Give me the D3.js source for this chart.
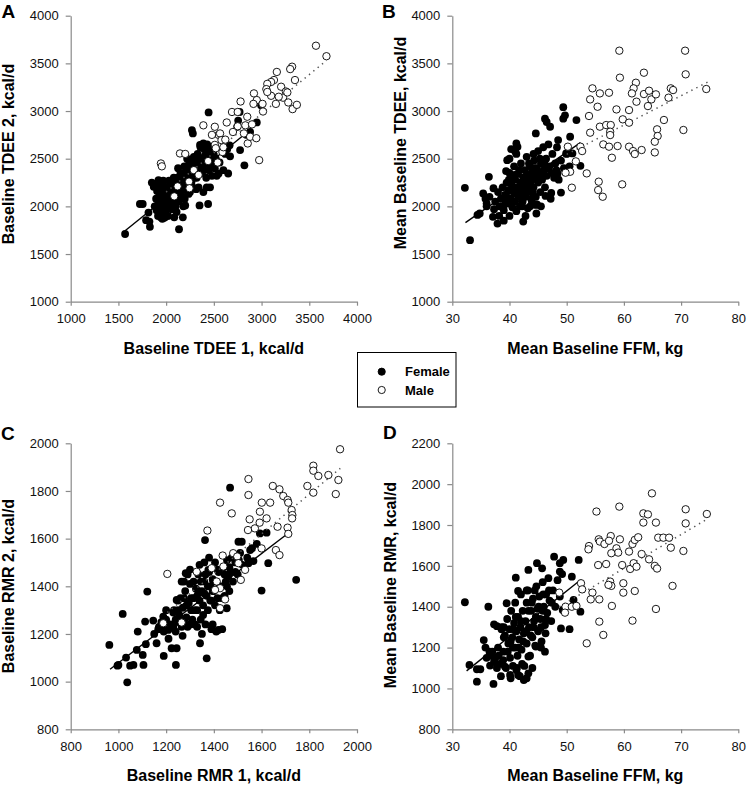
<!DOCTYPE html>
<html><head><meta charset="utf-8">
<script src="https://cdn.jsdelivr.net/npm/d3@7"></script>
<style>
html,body{margin:0;padding:0;background:#fff;}
svg{display:block;font-family:"Liberation Sans",Arial,Helvetica,sans-serif;}
</style></head><body>
<svg id="chart" width="747" height="786"></svg>
<script>
// ---------- DATA ----------
const tickA = [1000,1500,2000,2500,3000,3500,4000];
const tickFFM = [30,40,50,60,70,80];
const tickC = [800,1000,1200,1400,1600,1800,2000];
const tickDy = [800,1000,1200,1400,1600,1800,2000,2200];
const legendLabels = ["Female","Male"];

const aFemale = [[1570,1710],[1725,2025],[1755,2025],[1790,1855],[1825,1840],[1830,1785],[1815,1935],[1850,2250],[1885,2225],[1920,2275],[1870,2205],[1905,2160],
[1943,1885],[1960,1870],[1995,1890],[1980,1880],[2085,1885],[2175,1885],[2135,1760],[2200,2010],[2350,2010],[2440,2025],
[2270,2800],[2280,2765],[2445,2985],[2355,2645],[2390,2660],[2375,2645],
[2550,2345],[2650,2345],[2670,2525],[2665,2640],[2745,2835],[2755,2900],[2770,2990],[2775,2590],[2820,2430],[2880,2780],[2840,2750],[2995,3060],[2950,2880],
[1900,1960],[1910,2010],[1920,2060],[1930,2100],[1940,2000],[1950,2050],[1960,1930],[1965,2150],[1975,2080],[1985,2010],[1990,2200],[2000,1960],[2000,2110],[1950,2230],[1935,2185],[1915,1900],[1970,2270],
[2010,2050],[2020,2150],[2030,2000],[2040,2250],[2050,2100],[2060,1970],[2060,2200],[2070,2050],[2080,2300],[2090,2150],[2100,2000],[2100,2250],[2015,2200],[2045,2060],[2075,2120],[2030,2270],[2090,2080],
[2110,2130],[2120,2300],[2130,2050],[2140,2200],[2150,2350],[2160,2120],[2170,2250],[2180,2000],[2190,2420],[2200,2180],[2125,2400],[2145,2260],[2175,2320],[2195,2080],[2115,2200],
[2210,2300],[2220,2500],[2230,2250],[2240,2380],[2250,2150],[2260,2450],[2270,2320],[2280,2200],[2290,2520],[2300,2380],[2215,2420],[2255,2300],[2285,2420],[2235,2130],
[2310,2450],[2320,2300],[2330,2550],[2340,2200],[2350,2420],[2360,2620],[2370,2350],[2380,2500],[2390,2150],[2400,2600],[2315,2180],[2345,2500],[2385,2430],[2325,2380],
[2410,2450],[2420,2300],[2430,2650],[2440,2520],[2450,2380],[2460,2200],[2470,2580],[2480,2320],[2490,2470],[2500,2540],[2425,2200],[2455,2620],
[2510,2400],[2520,2500],[2530,2320],[2560,2460],[2590,2600],[2620,2550],[2640,2600],[2600,2380],
[1880,2000],[1895,2080],[1925,2150],[1945,2120],[1960,2010],[1985,2140],[2005,2030],[2025,2090],[2035,2180],[2055,2020],[2065,2140],[2085,2230],[2105,2170],[2135,2260],[2155,2190],[2165,2080],[2185,2280],[2205,2360],[2225,2200],[2245,2460],[2265,2250],[2295,2300],[2305,2480],[2335,2420],[2365,2460],[2395,2380],[2405,2530],[2435,2560],[2465,2440],[2485,2600],[2020,1900],[1975,1960],[2110,1940]];

const aMale = [[3570,3685],[3680,3575],[3320,3465],[3300,3440],[3160,3410],[3130,3325],[3100,3305],[3060,3285],[3050,3230],[3350,3325],[3205,3255],[3255,3205],[3225,3140],[3270,3195],
[2920,3185],[2950,3115],[2915,3075],[3010,3075],[3015,2995],[3150,3075],[3280,3090],[3325,3020],[3370,3065],[3100,3160],[3060,3200],[3180,3150],
[2780,3100],[2690,2990],[2750,2990],[2635,2880],[2750,2840],[2830,2850],[2815,2765],[2855,2660],[2880,2730],[2945,2715],[2975,2485],[2900,2860],[2850,2940],
[2510,2835],[2550,2750],[2480,2750],[2565,2765],[2510,2645],[2580,2695],[2590,2570],[2390,2850],[2600,2620],[2520,2610],
[2145,2555],[1945,2450],[1955,2420],[2290,2380],[2340,2330],[2240,2260],[2245,2190],[2120,2210],[2085,2105],[2440,2475],[2540,2460],[2200,2550],[2620,2700],[2700,2780]];

const bFemale = [[32.2,2195],[33.1,1645],[34.4,1910],[34.8,1925],[35.4,2135],[36,2030],[35.8,2080],[36.4,2310],[37.2,2190],[37.3,1970],[37.1,1890],[37.9,1820],[38.9,2000],[39.5,2100],[39.6,2485],[40,2500],[41.2,2660],[41.4,2625],[41,2575],[42.4,1840],[44.6,2765],[44.7,1925],[44.6,2015],[46.2,2920],[46.5,2885],[47.1,2835],[49.4,3040],[49.4,2920],[49.7,2955],[49,2145],[49.9,2555],[50.6,2730],[51,2555],[51.7,2905],[52.4,2425],[48.4,2345],[48.5,2695],
[38.5,2080],[38.8,2200],[39,1960],[39.2,2120],[39.5,2250],[39.6,2030],[39.8,2170],[40,1900],[40,2350],[40.2,2080],[40.4,2220],[40.5,1990],[40.7,2150],[40.8,2420],[41,2050],[41,2280],[41.2,1950],[41.3,2200],[41.5,2340],[41.6,2100],[41.8,2000],[41.9,2250],[42,2450],[42.1,2160],[42.3,2050],[42.4,2300],[42.5,2200],[42.7,2380],[42.8,2100],[43,2250],[43,2520],[43.2,1980],[43.3,2330],[43.5,2180],[43.6,2420],[43.8,2080],[43.9,2280],[44,2360],[44.2,2200],[44.3,2480],[44.5,2300],[44.6,2100],[44.8,2400],[45,2250],[45,2580],[45.2,2350],[45.4,2150],[45.5,2450],[45.7,2280],[45.9,2620],[46,2380],[46.2,2200],[46.4,2500],[46.5,2320],[46.8,2650],[47,2420],[47.2,2080],[47.5,2550],[47.8,2300],[48,2450],[48.3,2620],[48.6,2280],[49,2480],[49.5,2400],[50,2550],[50.5,2420],[38,2150],[37.5,2050],[36.5,2100],[36,2000],[38.2,1900],[39,1850],[40.3,2600],[41.2,2550],[42.8,1900],[43.6,2000],[44.8,2020],[45.5,2000],[46.3,2110],[47.3,2140],
[39.3,2050],[39.9,2280],[40.6,2050],[41.1,2130],[41.7,2380],[42.2,2000],[42.6,2130],[42.9,2300],[43.1,2150],[43.4,2450],[43.7,2250],[44.1,2150],[44.4,2400],[44.9,2300],[45.3,2500],[45.8,2350],[46.1,2450],[46.7,2400],[47.4,2350],[48.2,2380],[40.9,2330],[42,2230],[43.9,2050],[44.2,2550],[38.3,2000],[39.4,2370]];

const bMale = [[59.2,3633],[70.7,3633],[70.8,3385],[59.3,3350],[63.5,3402],[54.5,3238],[55.8,3185],[57.4,3192],[54.1,3122],[55.4,3045],
[62.1,3297],[61.7,3238],[61.4,3185],[62.2,3098],[63.5,3178],[64.4,3213],[64.8,3122],[64.2,3052],[65.6,3175],[68.2,3238],[68.6,3220],[67.8,3140],[74.4,3231],
[58.7,3017],[60.9,3010],[53.9,2948],[54.1,2773],[55.8,2836],[56.9,2853],[57.7,2853],[57.6,2783],[57.6,2748],[59.8,2913],[60.9,2878],[67,2906],[70.4,2801],
[65.8,2808],[65.9,2738],[65.4,2678],[65.4,2566],[56.4,2650],[57.4,2626],[58.9,2633],[57.9,2510],[60.9,2626],[61.6,2580],[61.9,2549],[63.1,2591],
[50.2,2626],[52.4,2626],[52.7,2580],[51.6,2472],[53.5,2346],[50.6,2363],[49.8,2353],[50.9,2196],[55.6,2259],[55.5,2171],[56.3,2101],[59.7,2231]];

const cFemale = [[962,1154],[996,1067],[1000,1070],[1018,1284],[1032,1101],[1037,997],[1049,1067],[1063,1070],[1081,1210],[1077,1133],[1121,1378],[1112,1252],[1115,1157],[1102,1112],[1105,1070],[1146,1256],[1160,1161],[1167,1220],[1181,1231],[1188,1273],[1190,1108],[1209,1217],[1223,1140],[1244,1140],[1241,1070],[1233,1300],[1244,1343],[1269,1192],[1265,1420],[1282,1455],[1342,1161],[1370,1098],[1363,1594],[1468,1814],[1377,1469],[1398,1420],[1419,1217],[1454,1308],[1503,1587],[1517,1587],[1552,1552],[1545,1497],[1580,1578],[1593,1622],[1621,1625],[1628,1497],[1600,1382],[1745,1427],[1566,1506],
[1150,1200],[1170,1230],[1190,1210],[1200,1260],[1210,1180],[1220,1240],[1230,1290],[1240,1210],[1250,1300],[1250,1340],[1260,1260],[1265,1230],[1270,1310],[1280,1380],[1285,1270],[1290,1230],[1295,1330],[1300,1410],[1305,1300],[1310,1260],[1315,1350],[1320,1240],[1325,1390],[1330,1300],[1335,1450],[1340,1340],[1345,1260],[1350,1380],[1355,1320],[1360,1420],[1365,1240],[1370,1360],[1375,1300],[1380,1460],[1385,1400],[1390,1340],[1395,1240],[1400,1380],[1405,1500],[1410,1420],[1415,1350],[1420,1460],[1425,1300],[1430,1400],[1435,1220],[1440,1480],[1445,1360],[1450,1420],[1455,1510],[1460,1440],[1465,1380],[1470,1460],[1480,1420],[1490,1500],[1500,1450],[1510,1540],[1520,1490],[1540,1520],[1560,1560],[1275,1420],[1290,1450],[1315,1420],[1200,1300],[1180,1250],[1240,1260],[1330,1230],[1390,1220],[1410,1210],[1350,1200],[1260,1350],[1300,1470],[1340,1490],[1360,1500],[1380,1520],
[1255,1280],[1275,1350],[1285,1320],[1305,1350],[1320,1300],[1335,1380],[1345,1420],[1355,1280],[1365,1450],[1375,1400],[1385,1340],[1395,1430],[1405,1320],[1415,1470],[1425,1400],[1435,1350],[1445,1450],[1455,1400],[1465,1480],[1475,1520],[1280,1240],[1300,1240],[1250,1250],[1230,1230],[1330,1360],[1360,1370],[1395,1380],[1490,1460],[1505,1510]];

const cMale = [[1929,1975],[1817,1906],[1817,1885],[1838,1863],[1880,1867],[1922,1846],[1792,1821],[1817,1793],[1911,1787],[1545,1850],[1545,1783],
[1647,1821],[1675,1807],[1691,1779],[1709,1762],[1712,1751],[1426,1751],[1475,1706],[1601,1751],[1636,1751],[1593,1713],[1621,1685],
[1726,1720],[1729,1699],[1728,1685],[1709,1646],[1712,1620],[1550,1681],[1572,1643],[1543,1636],[1592,1667],[1667,1650],[1373,1634],[1205,1452],[1328,1461],
[1437,1529],[1481,1539],[1498,1525],[1503,1497],[1531,1469],[1513,1427],[1600,1559],[1660,1552],[1675,1531],[1391,1476],[1412,1420],[1440,1483],[1426,1392],[1405,1385],[1426,1308],[1447,1345],[1265,1248],[1188,1245]];

const dFemale = [[32.2,1422],[33,1115],[34.3,1094],[34.9,1094],[34.3,1033],[35.5,1237],[36.3,1400],[37.2,1022],[36.6,1112],[37.3,1131],[37.3,1314],[37.8,1305],[38.6,1290],[39.5,1417],[38.9,1139],[39.2,1107],[40.1,1066],[41.2,1090],[41.5,1066],[42.5,1041],[43.3,1074],[43.3,1156],[41.1,1542],[41.5,1477],[43.3,1580],[43,1480],[44.8,1613],[45.7,1588],[44.6,1205],[45.3,1205],[46.3,1270],[47.8,1645],[48.8,1613],[49.4,1629],[49,1294],[50.5,1290],[50.9,1547],[52.1,1629],[52.4,1376],[51.2,1433],[48.8,1572],[49.3,1384],
[37.5,1150],[38,1200],[38.3,1120],[38.6,1300],[38.9,1180],[39.2,1260],[39.4,1100],[39.6,1340],[39.8,1220],[40,1290],[40.1,1150],[40.3,1380],[40.5,1250],[40.6,1110],[40.8,1320],[41,1200],[41,1420],[41.2,1280],[41.4,1160],[41.5,1350],[41.7,1240],[41.9,1300],[42,1460],[42.1,1190],[42.3,1380],[42.5,1270],[42.6,1110],[42.8,1330],[43,1220],[43,1420],[43.2,1480],[43.4,1300],[43.6,1160],[43.8,1380],[44,1250],[44.1,1440],[44.3,1330],[44.5,1210],[44.7,1500],[44.9,1390],[45,1280],[45.2,1450],[45.4,1340],[45.6,1230],[45.8,1520],[46,1400],[46.2,1310],[46.4,1460],[46.6,1370],[46.8,1540],[47,1430],[47.3,1330],[47.6,1480],[48,1400],[48.4,1530],[48.8,1450],[49.2,1560],[36.5,1180],[36,1150],[35.8,1200],[36.8,1160],[37.8,1100],[38.5,1060],[39,1250],[40.2,1050],[41.8,1060],[43,1050],[44,1100],[45.5,1200],[46.2,1180],
[39,1300],[39.7,1180],[40.2,1230],[40.7,1290],[41.1,1350],[41.6,1200],[42,1330],[42.4,1230],[42.9,1280],[43.3,1380],[43.7,1260],[44.2,1300],[44.6,1350],[45.1,1400],[45.5,1300],[45.9,1460],[46.4,1340],[46.9,1480],[47.4,1420],[43.9,1420],[44.4,1480],[45.8,1380],[37,1180],[38.1,1160],[40.6,1200],[41.3,1100],[42.2,1120]];

const dMale = [[64.9,1955],[55.2,1866],[59.2,1890],[63.4,1857],[64.2,1852],[63.4,1812],[65.6,1812],[70.8,1877],[70.8,1808],[74.5,1854],
[53.9,1697],[53.8,1681],[55.6,1730],[55.8,1719],[56.6,1707],[57.7,1746],[57.4,1723],[59.3,1730],[58.7,1686],[59,1665],[57.8,1662],
[60.9,1670],[61.5,1707],[61.9,1727],[62.5,1740],[66,1738],[66.9,1738],[67.9,1738],[68.2,1689],[63.1,1658],[64.4,1632],[70.4,1673],
[55.5,1604],[56.9,1609],[59.7,1604],[61.1,1585],[61.7,1613],[62.2,1596],[65.4,1600],[65.8,1587],[52.5,1515],[52.7,1485],[48.7,1469],
[54.5,1469],[54.2,1436],[55.7,1436],[57.6,1523],[57.8,1502],[57.3,1507],[59.9,1515],[59.9,1469],[61.9,1477],[68.5,1502],
[49.8,1400],[50.9,1400],[49.7,1371],[51.7,1404],[57.9,1404],[65.6,1389],[55.7,1327],[61.5,1332],[56.4,1262],[53.5,1221]];

// regression line end points [x1,y1,x2,y2]
const aFemaleFit = [1570,1745,2860,2785];
const aMaleFit = [2000,2150,3680,3530];
const bFemaleFit = [32.3,1829,52.4,2668];
const bMaleFit = [50,2546,74.8,3308];
const cFemaleFit = [965,1052,1702,1615];
const cMaleFit = [1205,1290,1930,1895];
const dFemaleFit = [32.5,1086,52.4,1531];
const dMaleFit = [48.7,1400,74.5,1828];

// ---------- DRAW ----------
const svg = d3.select("#chart");
const FONT = '"Liberation Sans",Arial,Helvetica,sans-serif';
const AXC = "#8a8a8a";

function panel(o){
  const g = svg.append("g");
  const x = d3.scaleLinear().domain(o.xd).range([o.px0,o.px1]);
  const y = d3.scaleLinear().domain(o.yd).range([o.py0,o.py1]);
  const xa = g.append("g").attr("transform",`translate(0,${o.py0})`)
    .call(d3.axisBottom(x).tickValues(o.xt).tickSize(4).tickSizeOuter(0).tickPadding(8.4).tickFormat(d3.format("d")));
  const ya = g.append("g").attr("transform",`translate(${o.px0},0)`)
    .call(d3.axisLeft(y).tickValues(o.yt).tickSize(5).tickSizeOuter(0).tickPadding(7).tickFormat(d3.format("d")));
  [xa,ya].forEach(a=>{
    a.select(".domain").attr("stroke",AXC).attr("stroke-width",1.2);
    a.selectAll(".tick line").attr("stroke",AXC).attr("stroke-width",1.2);
    a.selectAll(".tick text").attr("fill","#111").style("font-size","13px").style("font-family",FONT);
  });
  // female points
  g.append("g").selectAll("circle").data(o.fem).join("circle")
    .attr("cx",d=>x(d[0])).attr("cy",d=>y(d[1])).attr("r",3.9).attr("fill","#000");
  // fit lines
  g.append("line").attr("x1",x(o.ff[0])).attr("y1",y(o.ff[1])).attr("x2",x(o.ff[2])).attr("y2",y(o.ff[3]))
    .attr("stroke","#000").attr("stroke-width",1.4);
  g.append("line").attr("x1",x(o.mf[0])).attr("y1",y(o.mf[1])).attr("x2",x(o.mf[2])).attr("y2",y(o.mf[3]))
    .attr("stroke","#555").attr("stroke-width",1.5).attr("stroke-dasharray","1.4,4.2");
  // male points
  g.append("g").selectAll("circle").data(o.male).join("circle")
    .attr("cx",d=>x(d[0])).attr("cy",d=>y(d[1])).attr("r",3.7)
    .attr("fill","#fff").attr("stroke","#000").attr("stroke-width",0.9);
  // titles
  g.append("text").attr("x",(o.px0+o.px1)/2).attr("y",o.py0+52).attr("text-anchor","middle")
    .style("font-size","16px").style("font-weight","bold").text(o.xlab);
  g.append("text").attr("transform",`translate(${o.ytx},${o.ytc}) rotate(-90)`).attr("text-anchor","middle")
    .style("font-size","16px").style("font-weight","bold").text(o.ylab);
  g.append("text").attr("x",o.lx).attr("y",o.ly).style("font-size","19px").style("font-weight","bold").text(o.letter);
}

panel({xd:[1000,4000],yd:[1000,4000],xt:tickA,yt:tickA,px0:70.7,px1:357,py0:301.7,py1:15.7,
  fem:aFemale,male:aMale,ff:aFemaleFit,mf:aMaleFit,xlab:"Baseline TDEE 1, kcal/d",ylab:"Baseline TDEE 2, kcal/d",
  ytx:14,ytc:154,letter:"A",lx:1.5,ly:18});
panel({xd:[30,80],yd:[1000,4000],xt:tickFFM,yt:tickA,px0:452.3,px1:738.3,py0:301.7,py1:15.7,
  fem:bFemale,male:bMale,ff:bFemaleFit,mf:bMaleFit,xlab:"Mean Baseline FFM, kg",ylab:"Mean Baseline TDEE, kcal/d",
  ytx:405.5,ytc:143,letter:"B",lx:382,ly:18});
panel({xd:[800,2000],yd:[800,2000],xt:tickC,yt:tickC,px0:70.7,px1:357,py0:729.3,py1:443.3,
  fem:cFemale,male:cMale,ff:cFemaleFit,mf:cMaleFit,xlab:"Baseline RMR 1, kcal/d",ylab:"Baseline RMR 2, kcal/d",
  ytx:14,ytc:586,letter:"C",lx:1,ly:440});
panel({xd:[30,80],yd:[800,2200],xt:tickFFM,yt:tickDy,px0:452.3,px1:738.3,py0:729.3,py1:443.3,
  fem:dFemale,male:dMale,ff:dFemaleFit,mf:dMaleFit,xlab:"Mean Baseline FFM, kg",ylab:"Mean Baseline RMR, kcal/d",
  ytx:396,ytc:585,letter:"D",lx:383,ly:439});

// legend
const lg = svg.append("g");
lg.append("rect").attr("x",357.5).attr("y",352.5).attr("width",98.5).attr("height",54.5)
  .attr("fill","#fff").attr("stroke","#000").attr("stroke-width",1);
const lgY = d3.scalePoint().domain(legendLabels).range([371.7,390]);
lg.selectAll("circle").data(legendLabels).join("circle")
  .attr("cx",381.7).attr("cy",d=>lgY(d)).attr("r",3.6)
  .attr("fill",d=>d==="Female"?"#000":"#fff").attr("stroke","#000").attr("stroke-width",0.9);
lg.selectAll("text").data(legendLabels).join("text")
  .attr("x",405).attr("y",d=>lgY(d)+4.6).style("font-size","13px").style("font-weight","bold").text(d=>d);
</script></body></html>
